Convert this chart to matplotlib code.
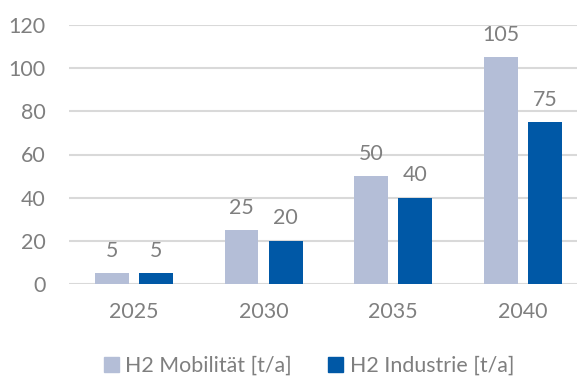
import matplotlib
matplotlib.use("Agg")
import matplotlib.pyplot as plt
import numpy as np
from matplotlib.patches import Patch

years = ["2025", "2030", "2035", "2040"]
mobilitaet = [5, 25, 50, 105]
industrie = [5, 20, 40, 75]
series_names = ["H2 Mobilität [t/a]", "H2 Industrie [t/a]"]
yticks = [0, 20, 40, 60, 80, 100, 120]

light = "#B4BED7"
dark = "#0058A6"
text_col = "#7F7F7F"
grid_col = "#D9D9D9"

plt.rcParams["font.family"] = ["Lato", "DejaVu Sans"]
fs = 15.4

W, H = 577, 379
fig = plt.figure(figsize=(W / 100, H / 100), dpi=100)
# axes in pixel coordinates: left 69, right 577, bottom y=284, top y=25
ax = fig.add_axes([69 / W, (H - 284) / H, (577 - 69) / W, (284 - 25) / H])

x = np.arange(len(years))
bw = 0.262
off = 0.17
b1 = ax.bar(x - off, mobilitaet, bw, color=light, zorder=3)
b2 = ax.bar(x + off, industrie, bw, color=dark, zorder=3)

for bars, vals in ((b1, mobilitaet), (b2, industrie)):
    for r, v in zip(bars, vals):
        ax.annotate(str(v), (r.get_x() + r.get_width() / 2, v),
                    xytext=(0, 9), textcoords="offset points",
                    ha="center", va="bottom", fontsize=fs, color=text_col)

ax.set_xlim(-0.5, (577 - 69) / 129.7 - 0.5)
ax.set_ylim(0, 120)
ax.set_yticks(yticks)
ax.set_yticklabels([str(t) for t in yticks])
ax.set_xticks(x)
ax.set_xticklabels(years)
ax.tick_params(axis="both", length=0, labelsize=fs, colors=text_col)
ax.tick_params(axis="y", pad=17)
ax.tick_params(axis="x", pad=13)
ax.yaxis.grid(True, color=grid_col, linewidth=1.5, zorder=0)
ax.set_axisbelow(True)
for s in ax.spines.values():
    s.set_visible(False)

handles = [Patch(color=light), Patch(color=dark)]
fig.legend(handles, series_names, loc="center", bbox_to_anchor=(309 / W, 1 - 366 / H),
           ncol=2, frameon=False, fontsize=fs, labelcolor=text_col,
           handlelength=0.7, handleheight=0.7, handletextpad=0.3, columnspacing=1.7)

fig.savefig("out.png", dpi=100)
